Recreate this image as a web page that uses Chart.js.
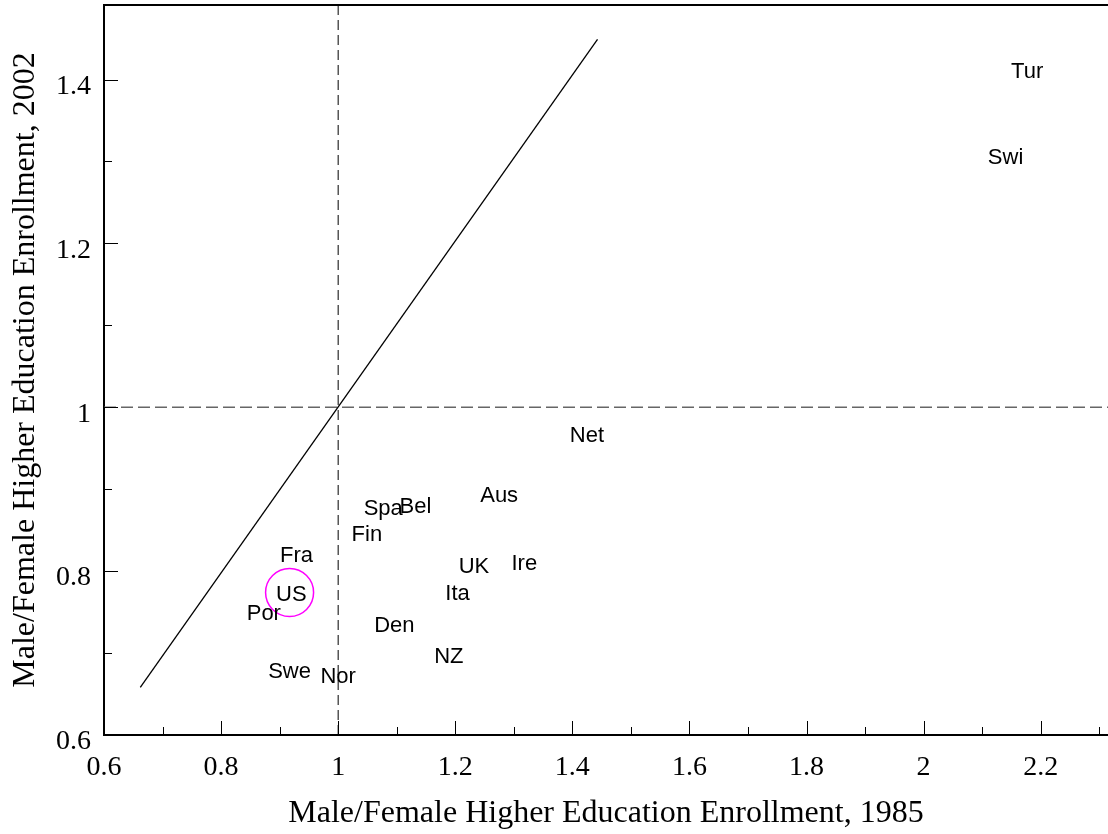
<!DOCTYPE html>
<html>
<head>
<meta charset="utf-8">
<script src="https://cdn.jsdelivr.net/npm/chart.js@4/dist/chart.umd.min.js"></script>
<style>
  html, body { margin: 0; padding: 0; background: #fff; }
  #wrap { width: 1108px; height: 834px; }
</style>
</head>
<body>
<div id="wrap"><canvas id="enrollChart" width="1108" height="834"></canvas></div>
<script>
// ---- data ----
const countries = ['Tur', 'Swi', 'Net', 'Aus', 'Spa', 'Bel', 'Fin', 'Ire', 'UK', 'Fra', 'Ita', 'US', 'Por', 'Den', 'NZ', 'Swe', 'Nor'];
const ratio1985 = [2.177, 2.140, 1.425, 1.275, 1.077, 1.132, 1.049, 1.318, 1.232, 0.929, 1.204, 0.920, 0.873, 1.096, 1.189, 0.917, 1.000];
const ratio2002 = [1.411, 1.305, 0.966, 0.893, 0.877, 0.879, 0.845, 0.810, 0.806, 0.820, 0.774, 0.772, 0.749, 0.734, 0.697, 0.678, 0.672];

// highlighted country (circle)
const highlight = [{ x: 0.917, y: 0.774 }];

// 45 degree reference line ends
const diagonal = [{ x: 0.662, y: 0.658 }, { x: 1.443, y: 1.449 }];

// axis ranges and ticks
const xRange = [0.6, 2.315];
const yRange = [0.6, 1.491];
const xMajorTicks = [0.6, 0.8, 1, 1.2, 1.4, 1.6, 1.8, 2, 2.2];
const xMinorTicks = [0.7, 0.9, 1.1, 1.3, 1.5, 1.7, 1.9, 2.1, 2.3];
const yMajorTicks = [0.6, 0.8, 1, 1.2, 1.4];
const yMinorTicks = [0.7, 0.9, 1.1, 1.3];

const xTitle = 'Male/Female Higher Education Enrollment, 1985';
const yTitle = 'Male/Female Higher Education Enrollment, 2002';

const SERIF = '"Liberation Serif", "Times New Roman", serif';
const SANS = '"Liberation Sans", Arial, sans-serif';

// country names drawn at each point
const labelPlugin = {
    id: 'countryLabels',
    afterDatasetsDraw(chart) {
        const ctx = chart.ctx;
        const meta = chart.getDatasetMeta(0);
        ctx.save();
        ctx.font = '22px ' + SANS;
        ctx.fillStyle = '#000';
        ctx.textAlign = 'center';
        ctx.textBaseline = 'middle';
        meta.data.forEach((pt, i) => {
            ctx.fillText(countries[i], pt.x, pt.y + 1);
        });
        ctx.restore();
    }
};

// inward tick marks + top border
const framePlugin = {
    id: 'frameTicks',
    afterDraw(chart) {
        const ctx = chart.ctx;
        const area = chart.chartArea;
        const xs = chart.scales.x, ys = chart.scales.y;
        ctx.save();
        ctx.strokeStyle = '#000';
        ctx.lineWidth = 1;
        ctx.beginPath();
        xMajorTicks.forEach(v => {
            const px = Math.round(xs.getPixelForValue(v)) + 0.5;
            ctx.moveTo(px, area.bottom); ctx.lineTo(px, area.bottom - 14);
        });
        xMinorTicks.forEach(v => {
            const px = Math.round(xs.getPixelForValue(v)) + 0.5;
            ctx.moveTo(px, area.bottom); ctx.lineTo(px, area.bottom - 8);
        });
        yMajorTicks.forEach(v => {
            const py = Math.round(ys.getPixelForValue(v)) + 0.5;
            ctx.moveTo(area.left, py); ctx.lineTo(area.left + 14, py);
        });
        yMinorTicks.forEach(v => {
            const py = Math.round(ys.getPixelForValue(v)) + 0.5;
            ctx.moveTo(area.left, py); ctx.lineTo(area.left + 8, py);
        });
        ctx.stroke();

        ctx.lineWidth = 2;
        ctx.beginPath();
        ctx.moveTo(area.left - 1, area.top);
        ctx.lineTo(area.right, area.top);
        ctx.stroke();
        ctx.restore();
    }
};

document.addEventListener('DOMContentLoaded', function() {
    const ctx = document.getElementById('enrollChart').getContext('2d');

    const points = ratio1985.map((x, i) => ({ x: x, y: ratio2002[i] }));

    new Chart(ctx, {
        type: 'scatter',
        data: {
            datasets: [
                {
                    label: 'countries',
                    data: points,
                    pointRadius: 0,
                    pointHoverRadius: 0
                },
                {
                    label: 'highlight',
                    data: highlight,
                    pointRadius: 24,
                    pointHoverRadius: 24,
                    pointBorderWidth: 1.5,
                    pointBorderColor: '#ff00ff',
                    pointBackgroundColor: 'rgba(0,0,0,0)'
                },
                {
                    label: 'diagonal',
                    data: diagonal,
                    showLine: true,
                    borderColor: '#000',
                    borderWidth: 1.3,
                    pointRadius: 0
                },
                {
                    label: 'x = 1',
                    data: [{ x: 1, y: yRange[0] }, { x: 1, y: yRange[1] }],
                    showLine: true,
                    borderColor: '#000',
                    borderWidth: 1,
                    borderDash: [10, 5],
                    pointRadius: 0
                },
                {
                    label: 'y = 1',
                    data: [{ x: xRange[0], y: 1 }, { x: xRange[1], y: 1 }],
                    showLine: true,
                    borderColor: '#666',
                    borderWidth: 1.5,
                    borderDash: [12, 5],
                    pointRadius: 0
                }
            ]
        },
        options: {
            responsive: false,
            animation: false,
            events: [],
            layout: { autoPadding: false, padding: { top: 5, right: 0, bottom: 0, left: 0 } },
            plugins: {
                legend: { display: false },
                tooltip: { enabled: false }
            },
            scales: {
                x: {
                    type: 'linear',
                    min: xRange[0],
                    max: xRange[1],
                    grid: { display: false, drawTicks: false },
                    border: { display: true, color: '#000', width: 2 },
                    afterBuildTicks: s => { s.ticks = xMajorTicks.map(v => ({ value: v })); },
                    afterFit: s => {
                        s.height = 99;
                        s.paddingLeft = 0; s.paddingRight = 0;
                    },
                    ticks: {
                        autoSkip: false,
                        maxRotation: 0,
                        padding: 16,
                        color: '#000',
                        font: { family: SERIF, size: 28 },
                        callback: v => String(v)
                    },
                    title: {
                        display: true,
                        text: xTitle,
                        color: '#000',
                        font: { family: SERIF, size: 32 },
                        padding: { top: 1, bottom: 1 }
                    }
                },
                y: {
                    type: 'linear',
                    min: yRange[0],
                    max: yRange[1],
                    grid: { display: false, drawTicks: false },
                    border: { display: true, color: '#000', width: 2 },
                    afterBuildTicks: s => { s.ticks = yMajorTicks.map(v => ({ value: v })); },
                    afterFit: s => {
                        s.width = 104;
                        s.paddingTop = 0; s.paddingBottom = 0;
                    },
                    ticks: {
                        autoSkip: false,
                        padding: 13,
                        labelOffset: 7,
                        color: '#000',
                        font: { family: SERIF, size: 28 },
                        callback: v => String(v)
                    },
                    title: {
                        display: true,
                        text: yTitle,
                        color: '#000',
                        font: { family: SERIF, size: 32 },
                        padding: { top: 6, bottom: 6 }
                    }
                }
            }
        },
        plugins: [labelPlugin, framePlugin]
    });
});
</script>
</body>
</html>
